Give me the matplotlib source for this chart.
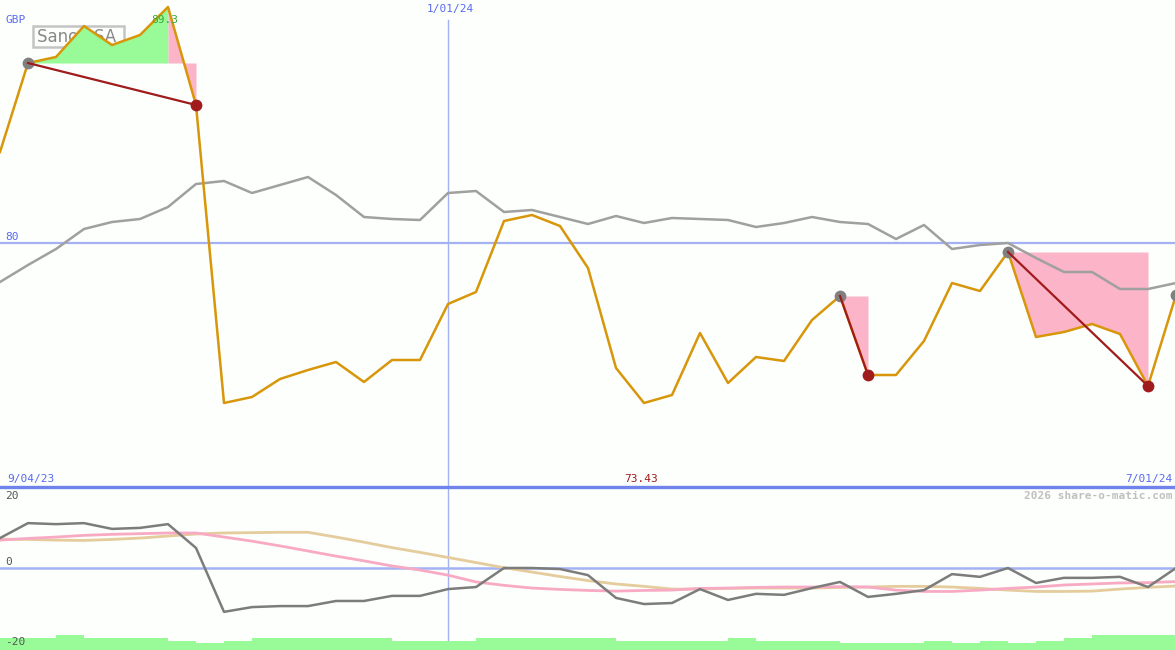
import matplotlib
matplotlib.use("Agg")
import matplotlib.pyplot as plt
from matplotlib.patches import Rectangle

# ---------------- data ----------------
price = [83.64, 87.20, 87.44, 88.68, 87.92, 88.32, 89.44, 85.52, 73.60, 73.84,
         74.56, 74.92, 75.24, 74.44, 75.32, 75.32, 77.56, 78.04, 80.88, 81.12,
         80.68, 79.00, 75.00, 73.60, 73.92, 76.40, 74.40, 75.44, 75.28, 76.92,
         77.88, 74.72, 74.72, 76.08, 78.40, 78.08, 79.64, 76.24, 76.44, 76.76,
         76.36, 74.28, 77.92]
index_line = [78.44, 79.12, 79.76, 80.56, 80.84, 80.96, 81.44, 82.36, 82.48, 82.00,
              82.32, 82.64, 81.92, 81.04, 80.96, 80.92, 82.00, 82.08, 81.24, 81.32,
              81.04, 80.76, 81.08, 80.80, 81.00, 80.96, 80.92, 80.64, 80.80, 81.04,
              80.84, 80.76, 80.16, 80.72, 79.76, 79.92, 80.00, 79.40, 78.84, 78.84,
              78.16, 78.16, 78.40]
momentum = [8.8, 13.2, 12.9, 13.2, 11.5, 11.8, 12.9, 5.9, -12.9, -11.5,
             -11.2, -11.2, -9.7, -9.7, -8.2, -8.2, -6.2, -5.6, 0.0, 0.0,
             -0.3, -2.1, -8.8, -10.6, -10.3, -6.2, -9.4, -7.6, -7.9, -5.9,
             -4.1, -8.5, -7.6, -6.5, -1.8, -2.6, 0.0, -4.4, -2.9, -2.9,
             -2.6, -5.6, 0.0]
avg_pink = [8.2, 8.7, 9.1, 9.6, 9.9, 10.1, 10.3, 10.3, 9.1, 7.9,
            6.5, 5.0, 3.5, 2.1, 0.6, -0.6, -2.1, -4.1, -5.1, -5.9,
            -6.3, -6.6, -6.8, -6.6, -6.5, -6.0, -5.9, -5.7, -5.6, -5.6,
            -5.5, -5.6, -6.5, -6.9, -6.9, -6.5, -6.0, -5.6, -5.0, -4.7,
            -4.4, -4.3, -4.0]
avg_tan = [8.5, 8.4, 8.2, 8.1, 8.4, 8.8, 9.4, 10.0, 10.3, 10.4,
           10.5, 10.5, 9.1, 7.6, 6.0, 4.6, 3.1, 1.6, 0.1, -1.2,
           -2.5, -3.7, -4.7, -5.4, -6.2, -6.2, -6.0, -5.9, -5.9, -5.9,
           -5.7, -5.6, -5.4, -5.4, -5.6, -6.0, -6.5, -6.9, -6.9, -6.8,
           -6.2, -5.7, -5.3]
volume = [12, 12, 15, 12, 12, 12, 9, 7, 9, 12, 12, 12, 12, 12, 9, 9, 9, 12, 12, 12,
          12, 12, 9, 9, 9, 9, 12, 9, 9, 9, 7, 7, 7, 9, 7, 9, 7, 9, 12, 15, 15, 15]
peaks = [1, 30, 36, 42]       # grey markers (index)
troughs = [7, 31, 41]         # red markers (index)
pairs = [(1, 6, 7), (30, 30, 31), (36, 36, 41)]  # start, peak, end
date_labels = ["9/04/23", "1/01/24", "7/01/24"]
x = list(range(len(price)))

# ---------------- style ----------------
BG = "#fcfffc"
ORANGE = "#d8960a"
GREY = "#a0a0a0"
BLUE = "#5a6af0"
LBLUE = "#a4b2f4"
DRED = "#a01c1c"
GREEN = "#98fb98"
PINK = "#fbb4c8"
MONO = "DejaVu Sans Mono"

W, H = 1175, 650
fig = plt.figure(figsize=(W / 100, H / 100), dpi=100, facecolor=BG)

def fx(px):
    return px / W

def fy(py):
    return 1 - py / H

ax1 = fig.add_axes([0, fy(487), 1, 487 / H])
ax2 = fig.add_axes([0, 0, 1, (H - 487) / H])
for a in (ax1, ax2):
    a.set_facecolor(BG)
    a.set_axis_off()
    a.set_xlim(0, W / 28)

ax1.set_ylim(80 - 244 / 25, 80 + 243 / 25)
ax2.set_ylim(-82 / 3.4, 81 / 3.4)

# legend box (under the fills)
ax1.add_patch(Rectangle((fx(33), fy(47)), fx(124) - fx(33), fy(26) - fy(47),
                        transform=fig.transFigure, facecolor="none",
                        edgecolor="#c4c4c4", linewidth=1.8, zorder=1))
ax1.text(fx(37), fy(37), "Sanofi SA", color="#888888", fontsize=12,
         family="DejaVu Sans", va="center", ha="left", zorder=1,
         transform=fig.transFigure)

# reference lines
ax1.axhline(80, color=LBLUE, lw=1.6, zorder=2)
ax1.axvline(16, ymin=0, ymax=1 - 20 / 487, color=LBLUE, lw=1, zorder=2)
ax2.axvline(16, ymin=10 / 163, ymax=1, color=LBLUE, lw=1, zorder=2)
ax2.axhline(0, color=LBLUE, lw=1.8, zorder=2)

# fills between line and the start level
for s, p, e in pairs:
    lvl = price[s]
    if p > s:
        xs = x[s:p + 1]
        ax1.fill_between(xs, price[s:p + 1], lvl, color=GREEN, lw=0, zorder=3)
    xs = x[p:e + 1]
    ax1.fill_between(xs, price[p:e + 1], lvl, color=PINK, lw=0, zorder=3)

ax1.plot(x, index_line, color=GREY, lw=1.8, zorder=4)
ax1.plot(x, price, color=ORANGE, lw=1.8, zorder=5)

# connector lines peak -> trough
for s, p, e in pairs:
    ax1.plot([s, e], [price[s], price[e]], color=DRED, lw=1.6, zorder=6)
ax1.plot(peaks, [price[i] for i in peaks], "o", color="#808080", ms=8.5,
         mec="none", zorder=5.5)
ax1.plot(troughs, [price[i] for i in troughs], "o", color=DRED, ms=8.5,
         mec="none", zorder=5.5)

# bottom panel
axv = ax2.twinx()
axv.set_axis_off()
axv.set_ylim(0, 163)
axv.bar(x[:-1], volume, width=1.0, align="edge", color=GREEN, lw=0, zorder=1)
ax2.set_zorder(axv.get_zorder() + 1)
ax2.patch.set_visible(False)
ax2.plot(x, avg_tan, color="#e4cc9c", lw=2, zorder=3)
ax2.plot(x, avg_pink, color="#f8aac4", lw=2, zorder=3)
ax2.plot(x, momentum, color="#7c7c7c", lw=1.8, zorder=4)

# separator line
fig.add_artist(plt.Line2D([0, 1], [fy(487), fy(487)], transform=fig.transFigure,
                          color="#7082ec", lw=2.4, zorder=10))

# texts
tk = dict(family=MONO, fontsize=8, va="center")
fig.text(fx(5), fy(20), "GBP", color=BLUE, ha="left", **tk)
fig.text(fx(151), fy(20), "89.3", color="#3aa83a", ha="left", **tk)
fig.text(fx(450), fy(9), date_labels[1], color=BLUE, ha="center", **tk)
fig.text(fx(5), fy(237), "80", color=BLUE, ha="left", **tk)
fig.text(fx(7), fy(479), date_labels[0], color=BLUE, ha="left", **tk)
fig.text(fx(641), fy(479), "73.43", color=DRED, ha="center", **tk)
fig.text(fx(1172), fy(479), date_labels[2], color=BLUE, ha="right", **tk)
fig.text(fx(1172), fy(496), "2026 share-o-matic.com", color="#c0c0c0",
         ha="right", fontweight="bold", **tk)
fig.text(fx(5), fy(496), "20", color="#555555", ha="left", **tk)
fig.text(fx(5), fy(562), "0", color="#555555", ha="left", **tk)
fig.text(fx(5), fy(642), "-20", color="#555555", ha="left", **tk)

fig.savefig("out.png", dpi=100, facecolor=BG)
